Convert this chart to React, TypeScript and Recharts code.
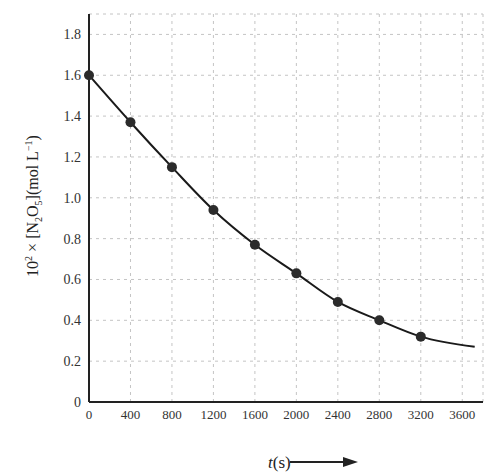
import { ComposedChart, Line, Scatter, XAxis, YAxis, CartesianGrid } from 'recharts'

// time (s) and concentration (10^2 x mol/L)
const times = [0, 400, 800, 1200, 1600, 2000, 2400, 2800, 3200]
const conc = [1.6, 1.37, 1.15, 0.94, 0.77, 0.63, 0.49, 0.4, 0.32]
// the fitted curve runs on past the last measurement
const curveEndTime = 3720
const curveEndConc = 0.27

const xTicks = [0, 400, 800, 1200, 1600, 2000, 2400, 2800, 3200, 3600]
const yTicks = [0, 0.2, 0.4, 0.6, 0.8, 1.0, 1.2, 1.4, 1.6, 1.8]

const points = times.map((t, i) => ({ t, c: conc[i] }))
const curve = [...points, { t: curveEndTime, c: curveEndConc }]

const font = "'Liberation Serif', 'Times New Roman', serif"

export default function App() {
  return (
    <div style={{ position: 'absolute', left: 0, top: 0, width: 485, height: 472, background: '#fff', fontFamily: font }}>
      <ComposedChart
        width={485}
        height={472}
        data={curve}
        margin={{ top: 14, right: 2, left: 0, bottom: 40 }}
        style={{ fontFamily: font }}
      >
        <CartesianGrid stroke="#c4c4c4" strokeDasharray="3 4" />
        <XAxis
          type="number"
          dataKey="t"
          domain={[0, 3800]}
          ticks={xTicks}
          interval={0}
          height={30}
          tickLine={false}
          axisLine={{ stroke: '#222', strokeWidth: 2 }}
          tick={{ fontSize: 13, fill: '#333', fontFamily: font }}
        />
        <YAxis
          type="number"
          dataKey="c"
          domain={[0, 1.9]}
          ticks={yTicks}
          interval={0}
          width={89}
          tickLine={false}
          axisLine={{ stroke: '#222', strokeWidth: 2 }}
          tickFormatter={(v: number) => (v === 0 ? '0' : v.toFixed(1))}
          tick={{ fontSize: 14, fill: '#333', fontFamily: font }}
        />
        <Line
          type="monotone"
          dataKey="c"
          stroke="#1a1a1a"
          strokeWidth={2}
          dot={false}
          activeDot={false}
          isAnimationActive={false}
        />
        <Scatter
          data={points}
          dataKey="c"
          fill="#2b2b2b"
          shape={(p: any) => <circle cx={p.cx} cy={p.cy} r={5} fill="#2b2b2b" />}
          isAnimationActive={false}
        />
      </ComposedChart>
      <svg
        width={485}
        height={472}
        style={{ position: 'absolute', left: 0, top: 0, pointerEvents: 'none' }}
      >
        <text
          transform="translate(38,206) rotate(-90)"
          textAnchor="middle"
          fontFamily={font}
          fontSize={16}
          fill="#222"
        >
          10<tspan dy={-6} fontSize={10}>2</tspan>
          <tspan dy={6}> × [N</tspan>
          <tspan dy={4} fontSize={10}>2</tspan>
          <tspan dy={-4}>O</tspan>
          <tspan dy={4} fontSize={10}>5</tspan>
          <tspan dy={-4}>](mol L</tspan>
          <tspan dy={-6} fontSize={10}>−1</tspan>
          <tspan dy={6}>)</tspan>
        </text>
        <text x={268} y={468} fontFamily={font} fontSize={17} fill="#222">
          <tspan fontStyle="italic">t</tspan>(s)
        </text>
        <line x1={290} y1={462} x2={345} y2={462} stroke="#222" strokeWidth={2} />
        <polygon points="343,457 358,462 343,467" fill="#222" />
      </svg>
    </div>
  )
}
